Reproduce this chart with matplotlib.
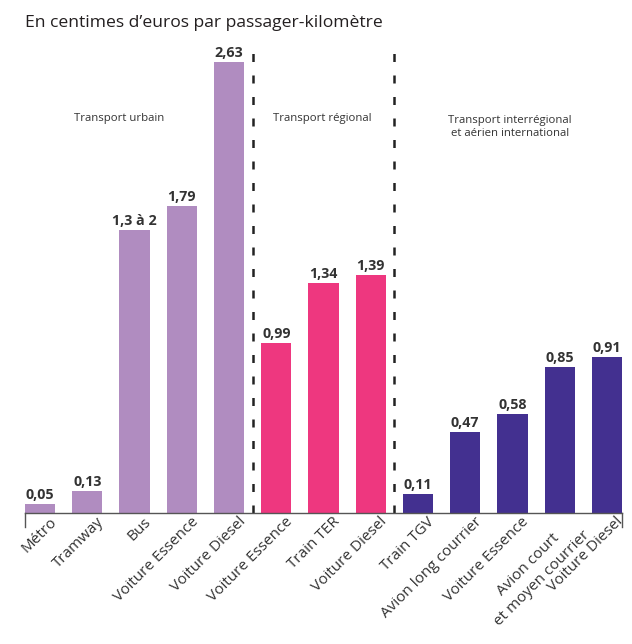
import matplotlib
matplotlib.use("Agg")
import matplotlib.pyplot as plt
import numpy as np

plt.rcParams["font.family"] = ["Open Sans", "DejaVu Sans"]

# Cost per passenger-km, in euro cents
categories = ["Métro", "Tramway", "Bus", "Voiture Essence", "Voiture Diesel",
              "Voiture Essence", "Train TER", "Voiture Diesel",
              "Train TGV", "Avion long courrier", "Voiture Essence",
              "Avion court\net moyen courrier", "Voiture Diesel"]
values = [0.05, 0.13, 1.65, 1.79, 2.63,
          0.99, 1.34, 1.39,
          0.11, 0.47, 0.58, 0.85, 0.91]
value_labels = ["0,05", "0,13", "1,3 à 2", "1,79", "2,63",
                "0,99", "1,34", "1,39",
                "0,11", "0,47", "0,58", "0,85", "0,91"]
groups = ["urbain"] * 5 + ["regional"] * 3 + ["inter"] * 5
group_titles = {"urbain": "Transport urbain",
                "regional": "Transport régional",
                "inter": "Transport interrégional\net aérien international"}
group_colors = {"urbain": "#B08CC0", "regional": "#EE377F", "inter": "#433090"}

text_color = "#333333"
W, H = 632, 644
fig = plt.figure(figsize=(W / 100, H / 100), dpi=100)
ax = fig.add_axes([25 / W, 131 / H, 597 / W, 473 / H])

xs = np.arange(len(values))
bar_w = 0.64
colors = [group_colors[g] for g in groups]
ax.bar(xs, values, width=bar_w, color=colors, zorder=2)

for x, v, lab in zip(xs, values, value_labels):
    ax.annotate(lab, (x, v), xytext=(0, 1.5), textcoords="offset points",
                ha="center", va="bottom", fontsize=10.3, fontweight="bold",
                color=text_color)

# group separators between the three transport families
names = list(group_titles)
bounds = [groups.index(n) for n in names[1:]]
for b in bounds:
    ax.vlines(b - 0.5, 0, 2.69, colors="#222222", linewidth=1.8,
              linestyles=(0, (3.2, 5.4)), zorder=1)

# group titles, centred over each block
label_pos = {"urbain": (1.67, 2.30), "regional": (5.97, 2.30), "inter": (9.95, 2.25)}
for n in names:
    gx, gy = label_pos[n]
    ax.text(gx, gy, group_titles[n], ha="center", va="center",
            fontsize=8.2, color=text_color, linespacing=1.25)

ax.set_xlim(-bar_w / 2, len(values) - 1 + bar_w / 2)
ax.set_ylim(0, 2.76)
for s in ["top", "right", "left"]:
    ax.spines[s].set_visible(False)
ax.spines["bottom"].set_color("#555555")
ax.spines["bottom"].set_linewidth(1.0)
ax.axvline(ax.get_xlim()[0], ymin=-0.03, ymax=0, color="#555555", lw=1.0, clip_on=False)
ax.axvline(ax.get_xlim()[1], ymin=-0.03, ymax=0, color="#555555", lw=1.0, clip_on=False)

ax.set_yticks([])
ax.set_xticks(xs)
ax.set_xticklabels(categories, rotation=45, ha="right", rotation_mode="anchor",
                   fontsize=11, color=text_color, multialignment="center",
                   linespacing=1.3)
ax.tick_params(axis="x", length=0, pad=1)
for lab in ax.get_xticklabels():
    lab.set_transform(lab.get_transform() + matplotlib.transforms.ScaledTranslation(
        9 / 100, 0, fig.dpi_scale_trans))

fig.text(25 / W, 1 - 27 / H, "En centimes d\u2019euros par passager-kilomètre",
         ha="left", va="baseline", fontsize=12.6, color="#231F20")

fig.savefig("out.png", dpi=100)
